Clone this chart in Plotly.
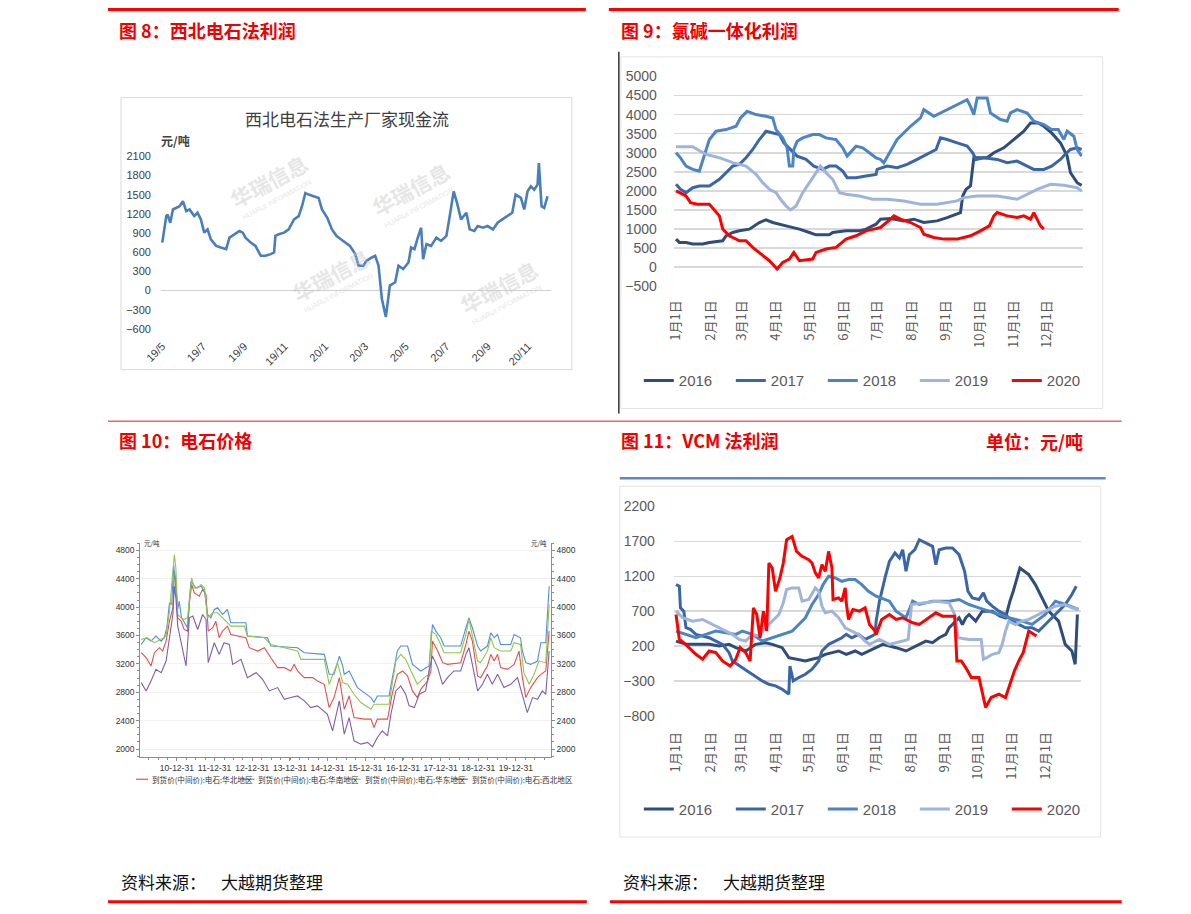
import plotly.graph_objects as go
import pandas as pd

W, H = 1191, 914
# The photographed page shows the figure scaled by ~0.986 and offset by (16, 8) px;
# positions below are given in reference-picture pixels and mapped back to paper fractions.
S, OX, OY = 0.986, 16.0, 8.0
def X(p): return (p - OX) / S / W
def Y(p): return 1 - (p - OY) / S / H

CJK = "Noto Sans CJK SC"
LAT = "Liberation Sans"

# ---------------- Chart 8: 西北电石法生产厂家现金流 ----------------
c8_start = "2019-05-01"
c8_day = [0, 6, 8, 12, 16, 21, 26, 31, 36, 41,
          48, 53, 58, 63, 68, 73, 81, 88, 96, 101,
          108, 116, 121, 125, 133, 140, 148, 155, 163, 168,
          170, 175, 183, 190, 198, 205, 210, 215, 220, 228,
          235, 240, 248, 255, 262, 272, 282, 290, 295, 302,
          307, 315, 320, 325, 330, 336, 342, 350, 355, 362,
          370, 374, 379, 384, 389, 392, 397, 404, 412, 419,
          427, 432, 438, 443, 449, 457, 462, 469, 474, 482,
          489, 497, 504, 511, 519, 526, 531, 539, 544, 549,
          554, 559, 564, 566, 570, 574, 579]
c8_val = [750, 1166, 1190, 1062, 1270, 1295, 1320, 1400, 1243, 1270,
          1166, 1218, 1114, 907, 958, 803, 700, 674, 648, 829,
          881, 933, 907, 829, 751, 700, 544, 544, 570, 596,
          855, 881, 907, 958, 1114, 1166, 1321, 1528, 1503, 1477,
          1451, 1270, 1140, 958, 855, 777, 700, 570, 389, 389,
          466, 518, 544, 389, -130, -415, 78, 130, 389, 337,
          440, 674, 648, 829, 984, 492, 725, 700, 829, 777,
          855, 1166, 1554, 1373, 1114, 1218, 958, 933, 1010, 984,
          1010, 958, 1062, 1114, 1166, 1218, 1503, 1451, 1270, 1554,
          1632, 1580, 1658, 1995, 1321, 1295, 1477]
c8_tickvals = ["2019-05-01", "2019-07-01", "2019-09-01", "2019-11-01", "2020-01-01",
               "2020-03-01", "2020-05-01", "2020-07-01", "2020-09-01", "2020-11-01"]
c8_ticktext = ["19/5", "19/7", "19/9", "19/11", "20/1", "20/3", "20/5", "20/7", "20/9", "20/11"]
c8_yticks = [-600, -300, 0, 300, 600, 900, 1200, 1500, 1800, 2100]

# ---------------- Chart 9: 氯碱一体化利润 (day of year) ----------------
month_days = [0, 31, 59, 90, 120, 151, 181, 212, 243, 273, 304, 334]
month_labels = ["1月1日", "2月1日", "3月1日", "4月1日", "5月1日", "6月1日",
                "7月1日", "8月1日", "9月1日", "10月1日", "11月1日", "12月1日"]

c9_2016_d = [0, 3, 9, 15, 24, 30, 42, 45, 51, 57, 66, 75, 81, 87, 99, 111, 120, 126, 138, 141,
             153, 165, 171, 180, 184, 193, 205, 214, 223, 235, 244, 253, 256, 258, 261, 265, 267, 268,
             280, 286, 295, 304, 313, 319, 326, 331, 338, 346, 352, 355, 361, 365]
c9_2016_v = [737, 650, 650, 607, 607, 650, 694, 824, 911, 954, 998, 1172, 1242, 1172, 1085, 998, 911, 850, 850, 911,
             954, 954, 998, 1128, 1259, 1276, 1215, 1259, 1172, 1215, 1302, 1389, 1433, 1868, 2042, 2129, 2564, 2868,
             2868, 3000, 3129, 3346, 3564, 3781, 3781, 3694, 3520, 3259, 2912, 2477, 2216, 2146]
c9_2017_d = [0, 4, 9, 15, 21, 30, 39, 45, 51, 57, 63, 69, 75, 81, 87, 93, 97, 103, 109, 117,
             124, 132, 138, 144, 150, 154, 162, 171, 180, 181, 190, 199, 208, 217, 226, 234, 238, 244,
             253, 262, 267, 270, 277, 289, 298, 307, 316, 322, 331, 338, 346, 350, 355, 361, 365]
c9_2017_v = [2172, 2042, 1955, 2085, 2130, 2130, 2303, 2477, 2651, 2695, 2870, 3086, 3347, 3564, 3520, 3477, 3260, 3087, 2912, 2825,
             2651, 2564, 2651, 2651, 2520, 2347, 2347, 2390, 2433, 2564, 2651, 2607, 2694, 2825, 2955, 3086, 3390, 3347,
             3260, 3173, 3000, 2825, 2868, 2825, 2738, 2782, 2651, 2564, 2564, 2651, 2825, 2955, 3086, 3130, 3086]
c9_2018_d = [0, 4, 9, 15, 21, 25, 30, 36, 45, 54, 58, 64, 72, 81, 87, 90, 96, 100, 102, 105,
             106, 109, 114, 123, 129, 135, 144, 150, 154, 162, 168, 174, 180, 184, 187, 199, 211, 220,
             223, 232, 244, 253, 262, 265, 268, 271, 280, 283, 292, 298, 301, 307, 316, 322, 331,
             338, 344, 349, 352, 358, 361, 365]
c9_2018_v = [3000, 2868, 2651, 2564, 2520, 2912, 3347, 3564, 3607, 3694, 3912, 4085, 4000, 3955, 3912, 3607, 3390, 3130, 2651, 2651,
             3087, 3300, 3390, 3477, 3477, 3390, 3347, 3130, 2912, 3173, 3130, 3000, 2868, 2825, 2738, 3347, 3694, 3912,
             4130, 3955, 4130, 4260, 4390, 4216, 4000, 4434, 4434, 4043, 3870, 3825, 4043, 4130, 4043, 3825, 3738,
             3607, 3607, 3347, 3564, 3433, 3086, 2912]
c9_2019_d = [0, 15, 27, 39, 51, 63, 72, 78, 84, 90, 94, 99, 103, 108, 114, 120, 126, 130, 135, 141,
             147, 153, 165, 177, 190, 205, 220, 235, 253, 259, 271, 289, 307, 316, 325, 337, 349, 361, 365]
c9_2019_v = [3156, 3156, 2956, 2870, 2740, 2651, 2433, 2216, 2042, 1955, 1781, 1607, 1503, 1607, 1955, 2216, 2477, 2651, 2477, 2303,
             1955, 1912, 1868, 1781, 1781, 1738, 1650, 1650, 1738, 1825, 1868, 1868, 1781, 1912, 2042, 2172, 2146, 2085, 2000]
c9_2020_d = [0, 9, 13, 19, 30, 34, 39, 42, 48, 57, 63, 69, 78, 84, 91, 96, 102, 106, 111, 123,
             126, 135, 144, 153, 162, 171, 178, 184, 193, 196, 202, 211, 220, 223, 232, 241, 253, 265,
             274, 282, 286, 289, 298, 307, 313, 319, 322, 325, 328, 331]
c9_2020_v = [2000, 1868, 1694, 1650, 1650, 1520, 1346, 1000, 824, 694, 694, 520, 302, 171, -46, 128, 215, 389, 171, 215,
             389, 476, 520, 737, 824, 954, 998, 1041, 1259, 1346, 1259, 1172, 1041, 867, 780, 737, 737, 824,
             954, 1085, 1346, 1433, 1346, 1302, 1346, 1259, 1433, 1259, 1085, 998]
c9_yticks = [-500, 0, 500, 1000, 1500, 2000, 2500, 3000, 3500, 4000, 4500, 5000]

# ---------------- Chart 10: 电石价格 (decimal years) ----------------
hn_t = [2010.05, 2010.18, 2010.31, 2010.44, 2010.58, 2010.66, 2010.73, 2010.80, 2010.86, 2010.91,
        2011.02, 2011.06, 2011.12, 2011.28, 2011.33, 2011.37, 2011.50, 2011.64, 2011.73, 2011.81,
        2011.90, 2011.99, 2012.08, 2012.21, 2012.34, 2012.43, 2012.83, 2012.87, 2013.40, 2013.49,
        2014.20, 2014.38, 2014.91, 2015.04, 2015.17, 2015.31, 2015.40,
        2015.44, 2015.57, 2015.66, 2015.79, 2015.97, 2016.15, 2016.23, 2016.32, 2016.63, 2016.72,
        2016.85, 2016.94, 2017.12, 2017.25, 2017.47, 2017.69, 2017.78, 2017.87, 2018.00, 2018.09,
        2018.53, 2018.67, 2018.75, 2018.84, 2018.98, 2019.06, 2019.24, 2019.33, 2019.42, 2019.51,
        2019.59, 2019.86, 2019.95, 2020.12, 2020.17, 2020.26, 2020.39, 2020.57, 2020.66, 2020.79, 2020.88]
hn_v = [3475, 3568, 3521, 3592, 3521, 3568, 3709, 4060, 4036, 4599,
        3966, 4083, 3849, 3709, 4107, 4364, 4271, 4294, 4224, 3896,
        3849, 3966, 3990, 3896, 3966, 3779, 3779, 3592, 3568, 3451,
        3428, 3357, 3334, 3053, 3053, 3310, 3170,
        3053, 3100, 3006, 2866, 2795, 2725, 2655, 2748, 2748, 3006,
        3381, 3451, 3451, 3193, 3100, 3170, 3755, 3662, 3568, 3451,
        3451, 3709, 3849, 3709, 3451, 3381, 3451, 3638, 3568, 3615,
        3474, 3474, 3615, 3568, 3381, 3217, 3193, 3240, 3498, 3498, 4294]

hd_t = [2010.05, 2010.22, 2010.40, 2010.58, 2010.71, 2010.80, 2010.89, 2010.93, 2010.97, 2011.02,
        2011.11, 2011.19, 2011.28, 2011.33, 2011.39, 2011.46, 2011.55, 2011.64, 2011.73, 2011.81,
        2011.95, 2012.08, 2012.21, 2012.34, 2012.43, 2012.79, 2012.87, 2013.32, 2013.49, 2013.85,
        2014.20, 2014.29, 2014.91, 2015.04, 2015.26, 2015.40,
        2015.53, 2015.70, 2015.88, 2016.15, 2016.23, 2016.63, 2016.72, 2016.81, 2016.94, 2017.07,
        2017.21, 2017.38, 2017.56, 2017.69, 2017.75, 2017.87, 2018.00, 2018.09, 2018.53, 2018.67,
        2018.75, 2018.84, 2018.98, 2019.06, 2019.24, 2019.33, 2019.42, 2019.59, 2019.86, 2019.95,
        2020.12, 2020.21, 2020.35, 2020.48, 2020.61, 2020.79, 2020.88]
hd_v = [3545, 3568, 3498, 3545, 3592, 3943, 4505, 4739, 4552, 3896,
        3849, 3826, 3849, 4083, 4411, 4271, 4271, 4318, 4271, 3849,
        3920, 3920, 3849, 3779, 3732, 3732, 3592, 3568, 3474, 3428,
        3381, 3264, 3264, 2912, 3217, 2936,
        2912, 2772, 2655, 2561, 2631, 2631, 2912, 3240, 3334, 3264,
        3100, 2912, 3006, 3053, 3662, 3615, 3474, 3357, 3357, 3615,
        3826, 3615, 3240, 3217, 3381, 3568, 3428, 3381, 3381, 3498,
        3474, 3076, 2912, 3053, 3240, 3217, 4036]

hb_t = [2010.05, 2010.18, 2010.31, 2010.40, 2010.53, 2010.62, 2010.71, 2010.80, 2010.89, 2010.93,
        2010.97, 2011.02, 2011.11, 2011.19, 2011.28, 2011.33, 2011.39, 2011.46, 2011.59, 2011.68,
        2011.77, 2011.83, 2011.95, 2012.03, 2012.12, 2012.21, 2012.34, 2012.43, 2012.83, 2012.92,
        2013.14, 2013.32, 2013.49, 2013.67, 2013.85, 2014.02, 2014.11, 2014.20, 2014.38, 2014.60,
        2014.73, 2014.91, 2015.04, 2015.17, 2015.31,
        2015.44, 2015.57, 2015.70, 2015.97, 2016.15, 2016.23, 2016.32, 2016.59, 2016.72, 2016.85,
        2016.99, 2017.12, 2017.25, 2017.38, 2017.47, 2017.65, 2017.74, 2017.78, 2017.92, 2018.05,
        2018.18, 2018.53, 2018.67, 2018.75, 2018.84, 2018.98, 2019.06, 2019.24, 2019.33, 2019.42,
        2019.51, 2019.59, 2019.77, 2019.95, 2020.08, 2020.17, 2020.26, 2020.39, 2020.57, 2020.66,
        2020.79, 2020.88]
hb_v = [3357, 3287, 3170, 3357, 3428, 3381, 3521, 3802, 3990, 4505,
        4364, 3849, 3802, 3685, 3662, 4060, 4318, 4200, 4154, 4247,
        4177, 3662, 3709, 3802, 3568, 3662, 3732, 3615, 3568, 3428,
        3381, 3428, 3287, 3147, 3147, 3100, 3193, 3100, 3006, 3006,
        2959, 2912, 2584, 2725, 3006,
        2561, 2748, 2444, 2421, 2421, 2304, 2421, 2421, 2795, 3053,
        3100, 3029, 2819, 2725, 2842, 2959, 3100, 3521, 3381, 3217,
        3193, 3217, 3474, 3662, 3521, 3029, 3006, 3170, 3334, 3240,
        3334, 3147, 3123, 3193, 3381, 3006, 2725, 2866, 3006, 3053,
        3100, 3662]

xb_t = [2010.05, 2010.18, 2010.31, 2010.44, 2010.58, 2010.71, 2010.80, 2010.89, 2010.93, 2010.97,
        2011.02, 2011.15, 2011.24, 2011.33, 2011.42, 2011.55, 2011.68, 2011.77, 2011.83, 2011.99,
        2012.12, 2012.25, 2012.39, 2012.48, 2012.70, 2012.87, 2013.10, 2013.27, 2013.45, 2013.67,
        2013.85, 2014.02, 2014.20, 2014.38, 2014.55, 2014.73, 2014.99, 2015.13, 2015.31,
        2015.44, 2015.57, 2015.70, 2015.88, 2016.06, 2016.19, 2016.32, 2016.45, 2016.59, 2016.68,
        2016.81, 2016.94, 2017.07, 2017.16, 2017.30, 2017.43, 2017.60, 2017.69, 2017.78, 2017.92,
        2018.05, 2018.18, 2018.35, 2018.53, 2018.67, 2018.75, 2018.84, 2018.98, 2019.11, 2019.24,
        2019.37, 2019.51, 2019.68, 2019.86, 2020.04, 2020.17, 2020.30, 2020.44, 2020.57, 2020.70,
        2020.79, 2020.88]
xb_v = [2936, 2819, 2959, 3123, 3076, 3240, 3568, 3896, 4294, 4130,
        3732, 3381, 3170, 3849, 3873, 3685, 3896, 3826, 3217, 3498,
        3334, 3498, 3474, 3193, 3264, 3006, 3076, 2983, 2819, 2866,
        2701, 2725, 2748, 2678, 2584, 2608, 2491, 2257, 2678,
        2210, 2444, 2116, 2069, 2093, 2032, 2163, 2257, 2186, 2491,
        2819, 2889, 2772, 2608, 2584, 2772, 2819, 3100, 3310, 3147,
        2912, 3006, 3100, 3100, 3334, 3428, 3193, 2819, 2912, 3053,
        2912, 3053, 2866, 2912, 3006, 2772, 2514, 2725, 2701, 2819,
        2772, 3381]

c10_names = ["到货价(中间价):电石:华北地区", "到货价(中间价):电石:华南地区",
             "到货价(中间价):电石:华东地区", "到货价(中间价):电石:西北地区"]
c10_tickvals = ["2010-12-31", "2011-12-31", "2012-12-31", "2013-12-31", "2014-12-31",
                "2015-12-31", "2016-12-31", "2017-12-31", "2018-12-31", "2019-12-31"]
c10_ticktext = ["10-12-31", "11-12-31", "12-12-31", "13-12-31", "14-12-31",
                "15-12-31", "16-12-31", "17-12-31", "18-12-31", "19-12-31"]
c10_yticks = [2000, 2400, 2800, 3200, 3600, 4000, 4400, 4800]

# ---------------- Chart 11: VCM 法利润 (day of year) ----------------
c11_2016_d = [0, 9, 21, 30, 39, 48, 54, 63, 72, 81, 87, 96, 102, 108, 117, 123, 129, 135, 141, 147,
              154, 162, 168, 174, 180, 187, 199, 208, 220, 226, 232, 238, 244, 247, 250, 253, 256, 259,
              262, 265, 271, 277, 286, 293, 298, 302, 305, 311, 319, 325, 331, 337, 346, 352, 358, 361, 363]
c11_2016_v = [271, 224, 224, 224, 200, 224, 176, 129, 224, 248, 224, 176, 33, 10, -14, 10, 33, 81, 105, 129,
              81, 129, 81, 129, 176, 224, 176, 129, 224, 271, 248, 319, 367, 462, 509, 557, 605, 509,
              605, 652, 557, 700, 700, 628, 605, 843, 986, 1319, 1224, 1081, 890, 700, 557, 224, 129, -62, 652]
c11_2017_d = [0, 3, 4, 7, 9, 13, 18, 24, 30, 36, 42, 48, 51, 60, 69, 78, 84, 90, 96, 102,
              103, 106, 111, 117, 123, 129, 132, 138, 144, 150, 154, 159, 165, 171, 177, 180, 181, 184,
              189, 193, 198, 202, 205, 208, 211, 216, 220, 226, 232, 235, 238, 244, 250, 256, 261, 264,
              268, 274, 278, 281, 286, 292, 298, 304, 310, 316, 322, 328, 334, 340, 346, 352, 358, 362]
c11_2017_v = [1081, 1057, 748, 700, 462, 438, 367, 343, 319, 271, 224, 105, -14, -110, -205, -300, -348, -371, -419, -490,
              -86, -300, -252, -205, -133, -14, 129, 224, 271, 319, 367, 319, 367, 295, 343, 367, 557, 843,
              1176, 1414, 1533, 1462, 1581, 1271, 1509, 1581, 1724, 1676, 1629, 1367, 1581, 1605, 1605, 1510, 1271, 986,
              890, 867, 962, 843, 771, 700, 652, 557, 509, 462, 462, 414, 509, 605, 700, 795, 938, 1057]
c11_2018_d = [0, 9, 18, 27, 36, 45, 54, 60, 69, 78, 87, 96, 105, 111, 117, 123, 129, 133, 138, 144,
              150, 156, 162, 168, 174, 181, 193, 199, 208, 214, 220, 232, 247, 256, 265, 274, 283, 292,
              301, 313, 322, 334, 343, 352, 364]
c11_2018_v = [414, 367, 319, 367, 414, 390, 367, 414, 367, 271, 319, 367, 414, 509, 605, 795, 938, 1081, 1200, 1176,
              1128, 1152, 1152, 1081, 986, 914, 843, 700, 605, 843, 795, 843, 843, 867, 795, 748, 700, 652,
              605, 557, 510, 652, 843, 795, 724]
c11_2019_d = [0, 6, 15, 24, 33, 42, 51, 57, 63, 69, 75, 81, 87, 93, 97, 100, 105, 111, 114, 120,
              126, 129, 132, 135, 141, 147, 153, 159, 165, 171, 175, 184, 193, 205, 210, 213, 223, 235,
              247, 252, 255, 265, 276, 278, 281, 286, 292, 295, 298, 301, 307, 313, 319, 325, 334,
              343, 352, 358, 364]
c11_2019_v = [700, 605, 557, 581, 509, 438, 367, 295, 271, 367, 343, 462, 557, 652, 819, 1010, 1033, 1033, 843, 867,
              1033, 986, 771, 676, 700, 605, 462, 414, 367, 271, 224, 295, 224, 271, 295, 795, 819, 843,
              819, 652, 319, 295, 295, 10, 33, 81, 105, 224, 414, 557, 509, 557, 581, 628, 700,
              771, 795, 748, 724]
c11_2020_d = [0, 3, 7, 12, 18, 24, 30, 36, 42, 49, 54, 58, 63, 67, 70, 73, 76, 79, 82, 84,
              87, 90, 94, 97, 100, 105, 109, 114, 120, 123, 126, 129, 132, 135, 138, 141, 142, 147,
              150, 153, 154, 156, 160, 166, 171, 175, 180, 181, 186, 193, 199, 205, 214, 220, 226,
              235, 241, 252, 254, 258, 262, 267, 274, 278, 280, 285, 292, 298, 302, 306, 310, 314,
              319, 323, 326]
c11_2020_v = [652, 295, 248, 176, 81, 10, 129, 105, -14, -86, 10, 176, 105, -14, 748, 652, 319, 700, 414, 1390,
              1319, 986, 1176, 1390, 1724, 1771, 1557, 1486, 1438, 1390, 1248, 1176, 1367, 1271, 1557, 1319, 867, 890,
              843, 1033, 819, 581, 724, 700, 748, 509, 414, 367, 581, 652, 581, 605, 533, 509, 581,
              676, 628, 628, -14, -14, -110, -252, -252, -538, -681, -538, -490, -538, -348, -157, -14, 105,
              414, 367, 343]
c11_yticks = [-800, -300, 200, 700, 1200, 1700, 2200]

years = ["2016", "2017", "2018", "2019", "2020"]
year_colors = ["#2f4d7a", "#3a66a6", "#4d84c4", "#9fb4db", "#ff0000"]


def to_dates(ts):
    out = []
    for t in ts:
        y = int(t)
        out.append(pd.Timestamp(year=y, month=1, day=1) + pd.Timedelta(days=(t - y) * 365.25))
    return out


fig = go.Figure()

# chart 8
c8_x = pd.Timestamp(c8_start) + pd.to_timedelta(c8_day, unit="D")
fig.add_trace(go.Scatter(x=c8_x, y=c8_val, mode="lines", line=dict(color="#4a7ebb", width=2.6),
                         xaxis="x", yaxis="y", showlegend=False, hoverinfo="skip"))

# chart 9
c9_data = [(c9_2016_d, c9_2016_v), (c9_2017_d, c9_2017_v), (c9_2018_d, c9_2018_v),
           (c9_2019_d, c9_2019_v), (c9_2020_d, c9_2020_v)]
for (d, v), name, col in zip(c9_data, years, year_colors):
    fig.add_trace(go.Scatter(x=d, y=v, name=name, mode="lines", line=dict(color=col, width=3),
                             xaxis="x2", yaxis="y2", legend="legend2"))

# chart 10
c10_colors = ["#e0524e", "#4d8fde", "#93c54b", "#7f5fa8"]
c10_data = [(hb_t, hb_v), (hn_t, hn_v), (hd_t, hd_v), (xb_t, xb_v)]
for i, ((t, v), name, col) in enumerate(zip(c10_data, c10_names, c10_colors)):
    fig.add_trace(go.Scatter(x=to_dates(t), y=v, name=name, mode="lines", line=dict(color=col, width=1.1),
                             xaxis="x3", yaxis="y4" if i == 3 else "y3", showlegend=False))

# chart 11
c11_data = [(c11_2016_d, c11_2016_v), (c11_2017_d, c11_2017_v), (c11_2018_d, c11_2018_v),
            (c11_2019_d, c11_2019_v), (c11_2020_d, c11_2020_v)]
for (d, v), name, col in zip(c11_data, years, year_colors):
    fig.add_trace(go.Scatter(x=d, y=v, name=name, mode="lines", line=dict(color=col, width=3),
                             xaxis="x4", yaxis="y5", legend="legend3"))

tickfont_gray = dict(family=LAT, size=14, color="#595959")

fig.update_layout(
    width=W, height=H, margin=dict(l=0, r=0, t=0, b=0),
    paper_bgcolor="white", plot_bgcolor="rgba(0,0,0,0)", showlegend=True, hovermode=False,
    font=dict(family=CJK),
    # chart 8
    xaxis=dict(domain=[X(160), X(550)], anchor="y", type="date",
               range=["2019-04-29", "2020-12-05"], tickvals=c8_tickvals, ticktext=c8_ticktext,
               tickangle=-45, tickfont=dict(family=LAT, size=11, color="#404040"),
               showgrid=False, showline=False, zeroline=False, ticks="", ticklabelstandoff=8),
    yaxis=dict(domain=[Y(330), Y(157)], anchor="x", range=[-600, 2100], tickvals=c8_yticks,
               tickfont=dict(family=LAT, size=11, color="#404040"), showgrid=False,
               zeroline=True, zerolinecolor="#d0d0d0", zerolinewidth=1, ticks="", ticklabelstandoff=9),
    # chart 9
    xaxis2=dict(domain=[X(673), X(1082)], anchor="y2", range=[-2, 366], tickvals=month_days,
                ticktext=month_labels, tickangle=-90, tickfont=dict(family=CJK, size=13, color="#595959"),
                showgrid=False, showline=False, zeroline=False, ticks="", ticklabelstandoff=10),
    yaxis2=dict(domain=[Y(287.7), Y(76.3)], anchor="x2", range=[-510, 5010], tickvals=c9_yticks,
                tickfont=tickfont_gray, showgrid=True, gridcolor="#d9d9d9", gridwidth=1.5,
                zeroline=False, ticks="", ticklabelstandoff=16),
    # chart 10
    xaxis3=dict(domain=[X(139.3), X(550)], anchor="y3", type="date",
                range=["2010-01-10", "2020-12-04"], tickvals=c10_tickvals, ticktext=c10_ticktext,
                tickfont=dict(family=LAT, size=8.5, color="#333333"), tickangle=0,
                showgrid=False, showline=True, linecolor="#8c8c8c", linewidth=1, zeroline=False,
                ticks="outside", ticklen=3, tickcolor="#8c8c8c",
                minor=dict(ticks="outside", ticklen=2, dtick="M3", tick0="2011-01-01", tickcolor="#8c8c8c")),
    yaxis3=dict(domain=[Y(759.3), Y(545)], anchor="x3", range=[1893, 4902], tickvals=c10_yticks,
                tickfont=dict(family=LAT, size=8.5, color="#333333"), showgrid=True, gridcolor="#f1f1f1",
                showline=True, linecolor="#8c8c8c", linewidth=1, zeroline=False,
                ticks="outside", ticklen=3, tickcolor="#8c8c8c",
                minor=dict(ticks="outside", ticklen=2, dtick=100, tickcolor="#8c8c8c")),
    yaxis4=dict(overlaying="y3", side="right", anchor="x3", range=[1893, 4902], tickvals=c10_yticks,
                tickfont=dict(family=LAT, size=8.5, color="#333333"), showgrid=False,
                showline=True, linecolor="#8c8c8c", linewidth=1, zeroline=False,
                ticks="outside", ticklen=3, tickcolor="#8c8c8c",
                minor=dict(ticks="outside", ticklen=2, dtick=100, tickcolor="#8c8c8c")),
    # chart 11
    xaxis4=dict(domain=[X(673), X(1080)], anchor="y5", range=[-2, 366], tickvals=month_days,
                ticktext=month_labels, tickangle=-90, tickfont=dict(family=CJK, size=13, color="#595959"),
                showgrid=False, showline=False, zeroline=False, ticks="", ticklabelstandoff=12),
    yaxis5=dict(domain=[Y(719), Y(507.6)], anchor="x4", range=[-810, 2210], tickvals=c11_yticks,
                tickfont=tickfont_gray, showgrid=True, gridcolor="#d9d9d9", gridwidth=1.5,
                zeroline=False, ticks="", ticklabelstandoff=18),
    legend2=dict(orientation="h", x=X(638), y=Y(382), xanchor="left", yanchor="middle",
                 font=dict(family=LAT, size=15, color="#595959"), bgcolor="rgba(0,0,0,0)",
                 entrywidth=47, entrywidthmode="pixels", itemwidth=30, itemclick=False),
    legend3=dict(orientation="h", x=X(638), y=Y(812), xanchor="left", yanchor="middle",
                 font=dict(family=LAT, size=15, color="#595959"), bgcolor="rgba(0,0,0,0)",
                 entrywidth=47, entrywidthmode="pixels", itemwidth=30, itemclick=False),
)

shapes = []
def hline(x0, x1, y, color, width):
    shapes.append(dict(type="line", xref="paper", yref="paper", x0=X(x0), x1=X(x1), y0=Y(y), y1=Y(y),
                       line=dict(color=color, width=width)))
def rect(x0, y0, x1, y1, color):
    shapes.append(dict(type="rect", xref="paper", yref="paper", x0=X(x0), x1=X(x1), y0=Y(y1), y1=Y(y0),
                       line=dict(color=color, width=1), fillcolor="rgba(0,0,0,0)"))

# page rules
hline(107, 585, 9.5, "#ff0000", 3)
hline(608, 1118, 9.5, "#ff0000", 3)
hline(107, 1121, 422.7, "#ff5c5c", 1.5)
hline(107, 586, 905, "#ff0000", 3)
hline(609, 1121, 905, "#ff0000", 3)
# chart frames
rect(120, 98, 571, 371, "#d9d9d9")
rect(620, 57, 1102, 410, "#e3e3e3")
shapes.append(dict(type="line", xref="paper", yref="paper", x0=X(618), x1=X(618), y0=Y(415), y1=Y(52),
                   line=dict(color="#333333", width=1.5)))
hline(619, 1105, 480, "#5b8abd", 2.5)
rect(619, 488, 1100, 840, "#e3e3e3")

# chart 10 legend samples
c10_leg_x = [135, 241.5, 348, 455]
for lx, col in zip(c10_leg_x, c10_colors):
    hline(lx, lx + 12, 782, col, 1.2)
fig.update_layout(shapes=shapes)

ann = []
def text(x, y, s, size, color, xanchor="left", bold=False, family=CJK, angle=0, opacity=1):
    ann.append(dict(xref="paper", yref="paper", x=X(x), y=Y(y), text=("<b>%s</b>" % s) if bold else s,
                    showarrow=False, xanchor=xanchor, yanchor="middle", textangle=angle, opacity=opacity,
                    font=dict(family=family, size=size, color=color)))

text(116, 30, "图 8：西北电石法利润", 18, "#f00000", bold=True)
text(618, 30, "图 9：氯碱一体化利润", 18, "#f00000", bold=True)
text(116, 442, "图 10：电石价格", 18, "#f00000", bold=True)
text(618, 442, "图 11：VCM 法利润", 18, "#f00000", bold=True)
text(1084, 443, "单位：元/吨", 18, "#f00000", xanchor="right", bold=True)
for x0 in (118, 620):
    text(x0, 885, "资料来源：", 17, "#111111")
    text(x0 + 100, 885, "大越期货整理", 17, "#111111")

# chart 8 inner texts
text(346, 119, "西北电石法生产厂家现金流", 17, "#404040", xanchor="center")
text(158, 141, "<b>元/吨</b>", 12, "#404040")
for wx, wy in [(268, 182), (410, 190), (330, 276), (498, 288)]:
    text(wx, wy, "<b>华瑞信息</b>", 21, "#c8c8c8", xanchor="center", angle=-28, opacity=0.45)
    text(wx + 8, wy + 18, "HUARUI INFORMATION", 7, "#c8c8c8", xanchor="center", family=LAT, angle=-28, opacity=0.45)

# chart 10 texts
text(141, 545, "元/吨", 6.5, "#333333")
text(548, 545, "元/吨", 6.5, "#333333", xanchor="right")
for lx, name in zip(c10_leg_x, c10_names):
    text(lx + 14, 782, name, 7.6, "#333333")

fig.update_layout(annotations=ann)
fig.write_html("out.html", config={"displayModeBar": False, "staticPlot": True},
               post_script="document.body.style.margin='0';document.body.style.overflow='hidden';")
